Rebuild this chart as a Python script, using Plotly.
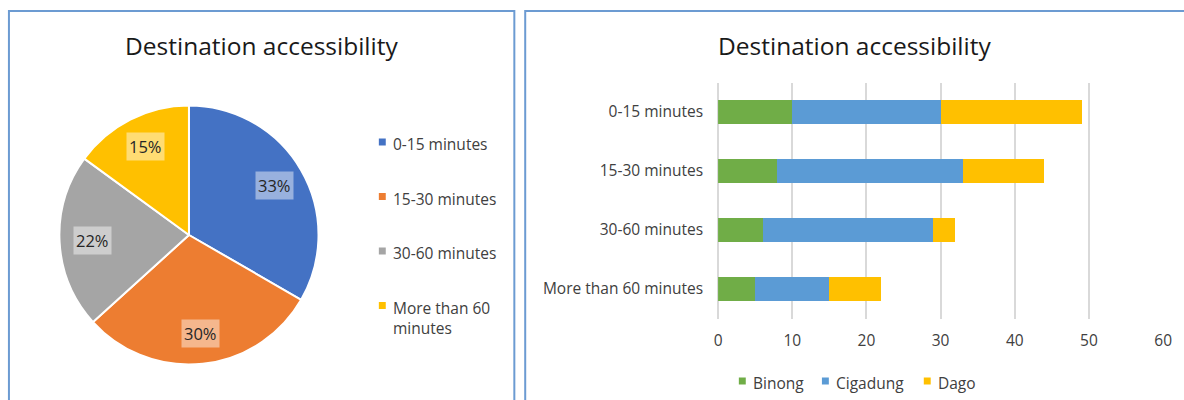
import math
import plotly.graph_objects as go

# Travel time categories and respondents per neighbourhood
categories = ["0-15 minutes", "15-30 minutes", "30-60 minutes", "More than 60 minutes"]
binong = [10, 8, 6, 5]
cigadung = [20, 25, 23, 10]
dago = [19, 11, 3, 7]
series_names = ["Binong", "Cigadung", "Dago"]
x_ticks = [0, 10, 20, 30, 40, 50, 60]

pie_legend_labels = ["0-15 minutes", "15-30 minutes", "30-60 minutes", "More than 60<br>minutes"]

W, H = 1184, 400
FONT = "'Open Sans', 'Noto Sans', sans-serif"
TXT = "#404040"
FS = 15.5
pie_colors = ["#4472C4", "#ED7D31", "#A5A5A5", "#FFC000"]
series_colors = ["#70AD47", "#5B9BD5", "#FFC000"]

totals = [b + c + d for b, c, d in zip(binong, cigadung, dago)]
grand = sum(totals)

# pie geometry in pixels
cx, cy, R = 187, 235, 131


def px(x):
    return x / W


def py(y):
    return 1 - y / H


fig = go.Figure()

fig.add_trace(go.Pie(
    labels=categories,
    values=totals,
    sort=False,
    direction="clockwise",
    rotation=0,
    marker=dict(colors=pie_colors, line=dict(color="white", width=2)),
    textinfo="none",
    hoverinfo="label+percent",
    showlegend=False,
    domain=dict(x=[px(cx - R), px(cx + R)], y=[py(cy + R), py(cy - R)]),
))

for name, vals, col in zip(series_names, [binong, cigadung, dago], series_colors):
    fig.add_trace(go.Bar(
        y=categories, x=vals, name=name, orientation="h",
        marker=dict(color=col, line=dict(width=0)),
        xaxis="x", yaxis="y", showlegend=False,
    ))

annotations = []
shapes = []

# percentage labels at the middle of each slice
cum = 0
r_lab = 0.76 * 130
for v in totals:
    mid = (cum + v / 2) / grand
    cum += v
    ang = 2 * math.pi * mid
    lx = 188 + r_lab * math.sin(ang)
    ly = cy - r_lab * math.cos(ang)
    annotations.append(dict(
        x=px(lx), y=py(ly), xref="paper", yref="paper",
        text=f"{round(100 * v / grand)}%", showarrow=False,
        font=dict(family=FONT, size=16.5, color="#262626"),
        bgcolor="rgba(255,255,255,0.45)", borderpad=2,
        xanchor="center", yanchor="middle",
    ))


def legend_entry(x_sq, y_mid, color, label):
    shapes.append(dict(type="rect", xref="paper", yref="paper",
                       x0=px(x_sq - 3.5), x1=px(x_sq + 3.5),
                       y0=py(y_mid + 3.5), y1=py(y_mid - 3.5),
                       fillcolor=color, line=dict(width=0)))
    annotations.append(dict(
        x=px(x_sq + 8.5), y=py(y_mid - 11), xref="paper", yref="paper",
        text=label, showarrow=False, align="left",
        font=dict(family=FONT, size=FS, color=TXT),
        xanchor="left", yanchor="top",
    ))


# pie legend, one entry per travel time class
for i, (lab, col) in enumerate(zip(pie_legend_labels, pie_colors)):
    legend_entry(382.5, 142 + i * 54.5, col, lab)

# series legend under the bar chart
for xs, col, name in zip([746.5, 830.5, 933.5], series_colors, series_names):
    legend_entry(xs, 381, col, name)

# panel titles
for tx in (260, 860):
    annotations.append(dict(
        x=px(tx), y=py(45), xref="paper", yref="paper",
        text="Destination accessibility", showarrow=False,
        font=dict(family=FONT, size=24.5, color="#1a1a1a"),
        xanchor="center", yanchor="middle",
    ))

# panel frames
border = dict(color="#6C9BD2", width=2)
shapes.append(dict(type="rect", xref="paper", yref="paper",
                   x0=px(5), x1=px(516), y0=py(420), y1=py(11), line=border))
shapes.append(dict(type="rect", xref="paper", yref="paper",
                   x0=px(527), x1=px(1200), y0=py(420), y1=py(11), line=border))

fig.update_layout(
    width=W, height=H,
    margin=dict(l=0, r=0, t=0, b=0),
    paper_bgcolor="white", plot_bgcolor="white",
    barmode="stack", bargap=0.59,
    font=dict(family=FONT, size=FS, color=TXT),
    xaxis=dict(
        domain=[px(722), px(1172)], range=[0, 60], tickvals=x_ticks,
        showgrid=True, gridcolor="#D9D9D9", gridwidth=1.5,
        zeroline=True, zerolinecolor="#D9D9D9", zerolinewidth=1.5,
        showline=False, ticks="", ticklabelstandoff=11,
        tickfont=dict(family=FONT, size=FS, color=TXT), fixedrange=True,
    ),
    yaxis=dict(
        domain=[py(318.5), py(82.5)], autorange="reversed",
        showgrid=False, zeroline=False, showline=False, ticks="",
        ticklabelstandoff=14,
        tickfont=dict(family=FONT, size=FS, color=TXT), fixedrange=True,
    ),
    annotations=annotations,
    shapes=shapes,
    showlegend=False,
)

fig.write_html("out.html")
